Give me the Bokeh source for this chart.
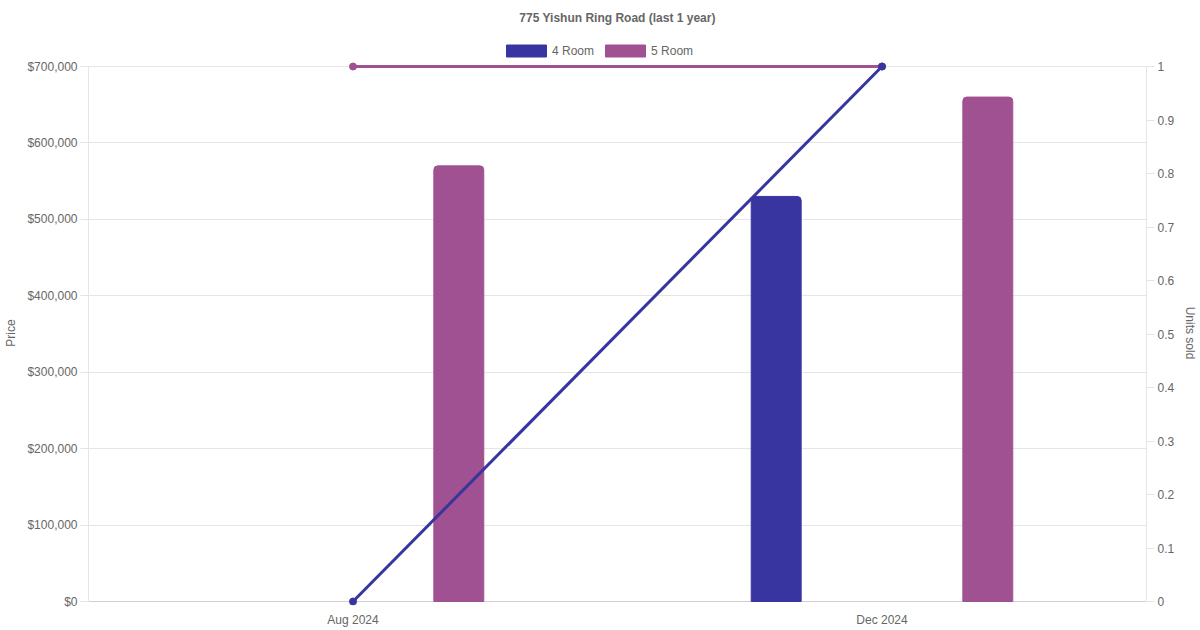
import math
from bokeh.plotting import figure
from bokeh.layouts import column
from bokeh.models import (ColumnDataSource, FactorRange, Range1d, LinearAxis, Grid,
                          NumeralTickFormatter, FixedTicker, Legend, LegendItem)
from bokeh.transform import dodge
from bokeh.embed import file_html
from bokeh.resources import INLINE

# ---- data ----
months = ["Aug 2024", "Dec 2024"]
price_4room = [math.nan, 530000]
price_5room = [570000, 660000]
units_4room = [0, 1]
units_5room = [1, 1]
price_ticks = [0, 100000, 200000, 300000, 400000, 500000, 600000, 700000]
units_ticks = [0, 0.1, 0.2, 0.3, 0.4, 0.5, 0.6, 0.7, 0.8, 0.9, 1]
units_labels = ["0", "0.1", "0.2", "0.3", "0.4", "0.5", "0.6", "0.7", "0.8", "0.9", "1"]
title_text = "775 Yishun Ring Road (last 1 year)"
price_max = 700000
units_max = 1

C4 = "#3834a0"
C5 = "#a05192"
TXT = "#666666"
GRID = "#e5e5e5"
BASE = "#d0d0d0"
FONT = "Liberation Sans"

W = 1200
HEAD_H = 58
MAIN_H = 630 - HEAD_H
LEFT, RIGHT = 88, 53
MAIN_TOP, MAIN_BOTTOM = 2, 25
AXIS_PX = 535                       # pixel height of the value scale
PAD_TOP_PX, PAD_BOT_PX = 6, 4       # headroom so markers at the extremes are not clipped
lo = -PAD_BOT_PX / AXIS_PX
hi = 1 + PAD_TOP_PX / AXIS_PX

src = ColumnDataSource(dict(month=months, p4=price_4room, p5=price_5room,
                            u4=units_4room, u5=units_5room))
x_range = FactorRange(factors=months)

# ---------------- main chart ----------------
p = figure(width=W, height=MAIN_H, x_range=x_range, title=None,
           y_range=Range1d(price_max * lo, price_max * hi), output_backend="svg",
           toolbar_location=None,
           min_border_left=LEFT, min_border_right=RIGHT, min_border_top=MAIN_TOP,
           min_border_bottom=MAIN_BOTTOM)
p.extra_y_ranges = {"units": Range1d(units_max * lo, units_max * hi)}
p.outline_line_color = None
p.background_fill_color = "white"

bar_kw = dict(width=0.0944, source=src, border_radius=(4, 4, 0, 0))
p.vbar(x=dodge("month", -0.2, range=x_range), top="p4",
       fill_color=C4, line_color=C4, **bar_kw)
p.vbar(x=dodge("month", 0.2, range=x_range), top="p5",
       fill_color=C5, line_color=C5, **bar_kw)

p.xgrid.grid_line_color = None
p.ygrid.grid_line_color = GRID
p.ygrid.ticker = FixedTicker(ticks=price_ticks[1:])
base_grid = Grid(dimension=1, ticker=FixedTicker(ticks=price_ticks[:1]),
                 grid_line_color=BASE)
p.add_layout(base_grid)

p.line(x="month", y="u5", source=src, y_range_name="units", line_color=C5, line_width=3)
p.scatter(x="month", y="u5", source=src, y_range_name="units", size=7,
          fill_color=C5, line_color=C5)
p.line(x="month", y="u4", source=src, y_range_name="units", line_color=C4, line_width=3)
p.scatter(x="month", y="u4", source=src, y_range_name="units", size=7,
          fill_color=C4, line_color=C4)

xa = p.xaxis[0]
xa.axis_line_color = None
xa.major_tick_line_color = None
xa.minor_tick_line_color = None
xa.major_tick_out = 0
xa.major_label_standoff = 7
xa.major_label_text_font = FONT
xa.major_label_text_font_size = "12px"
xa.major_label_text_color = TXT

ya = p.yaxis[0]
ya.ticker = FixedTicker(ticks=price_ticks)
ya.bounds = (0, price_max)
ya.formatter = NumeralTickFormatter(format="$0,0")
ya.axis_line_color = GRID
ya.major_tick_line_color = GRID
ya.major_tick_out = 8
ya.major_tick_in = 0
ya.minor_tick_line_color = None
ya.major_label_standoff = 3
ya.major_label_text_font = FONT
ya.major_label_text_font_size = "12px"
ya.major_label_text_color = TXT
ya.axis_label = "Price"
ya.axis_label_text_font = FONT
ya.axis_label_text_font_size = "12px"
ya.axis_label_text_font_style = "normal"
ya.axis_label_text_color = TXT
ya.axis_label_standoff = 6

ra = LinearAxis(y_range_name="units", ticker=FixedTicker(ticks=units_ticks))
ra.bounds = (0, units_max)
ra.major_label_overrides = {t: l for t, l in zip(units_ticks, units_labels)}
ra.axis_line_color = GRID
ra.major_tick_line_color = GRID
ra.major_tick_out = 8
ra.major_tick_in = 0
ra.minor_tick_line_color = None
ra.major_label_standoff = 3
ra.major_label_text_font = FONT
ra.major_label_text_font_size = "12px"
ra.major_label_text_color = TXT
ra.axis_label = "Units sold"
ra.axis_label_text_font = FONT
ra.axis_label_text_font_size = "12px"
ra.axis_label_text_font_style = "normal"
ra.axis_label_text_color = TXT
ra.axis_label_standoff = 6
p.add_layout(ra, "right")

# ---------------- header: title + legend ----------------
head = figure(width=W, height=HEAD_H, x_range=x_range, y_range=Range1d(2e6, 3e6),
              output_backend="svg", toolbar_location=None,
              x_axis_location=None, y_axis_location=None,
              min_border_left=LEFT, min_border_right=RIGHT, min_border_top=31,
              min_border_bottom=0)
head.outline_line_color = None
head.grid.grid_line_color = None
head.title.text = title_text
head.title.align = "center"
head.title.text_font = FONT
head.title.text_font_size = "12px"
head.title.text_font_style = "bold"
head.title.text_color = TXT
head.title.standoff = 13

# legend proxies (same data, far outside the header's visible range)
lg4 = head.vbar(x=dodge("month", -0.2, range=x_range), top="p4",
                fill_color=C4, line_color=C4, **bar_kw)
lg5 = head.vbar(x=dodge("month", 0.2, range=x_range), top="p5",
                fill_color=C5, line_color=C5, **bar_kw)

legend = Legend(items=[LegendItem(label="4 Room", renderers=[lg4]),
                       LegendItem(label="5 Room", renderers=[lg5])],
                orientation="horizontal", location=(413, 0),
                glyph_width=50, glyph_height=15, label_height=15,
                label_text_font=FONT, label_text_font_size="12px",
                label_text_color=TXT, label_standoff=1, spacing=6,
                padding=0, margin=0,
                border_line_color=None, background_fill_alpha=0)
head.add_layout(legend, "center")

layout = column(head, p, spacing=0)
open("out.html", "w").write(file_html(layout, INLINE))
